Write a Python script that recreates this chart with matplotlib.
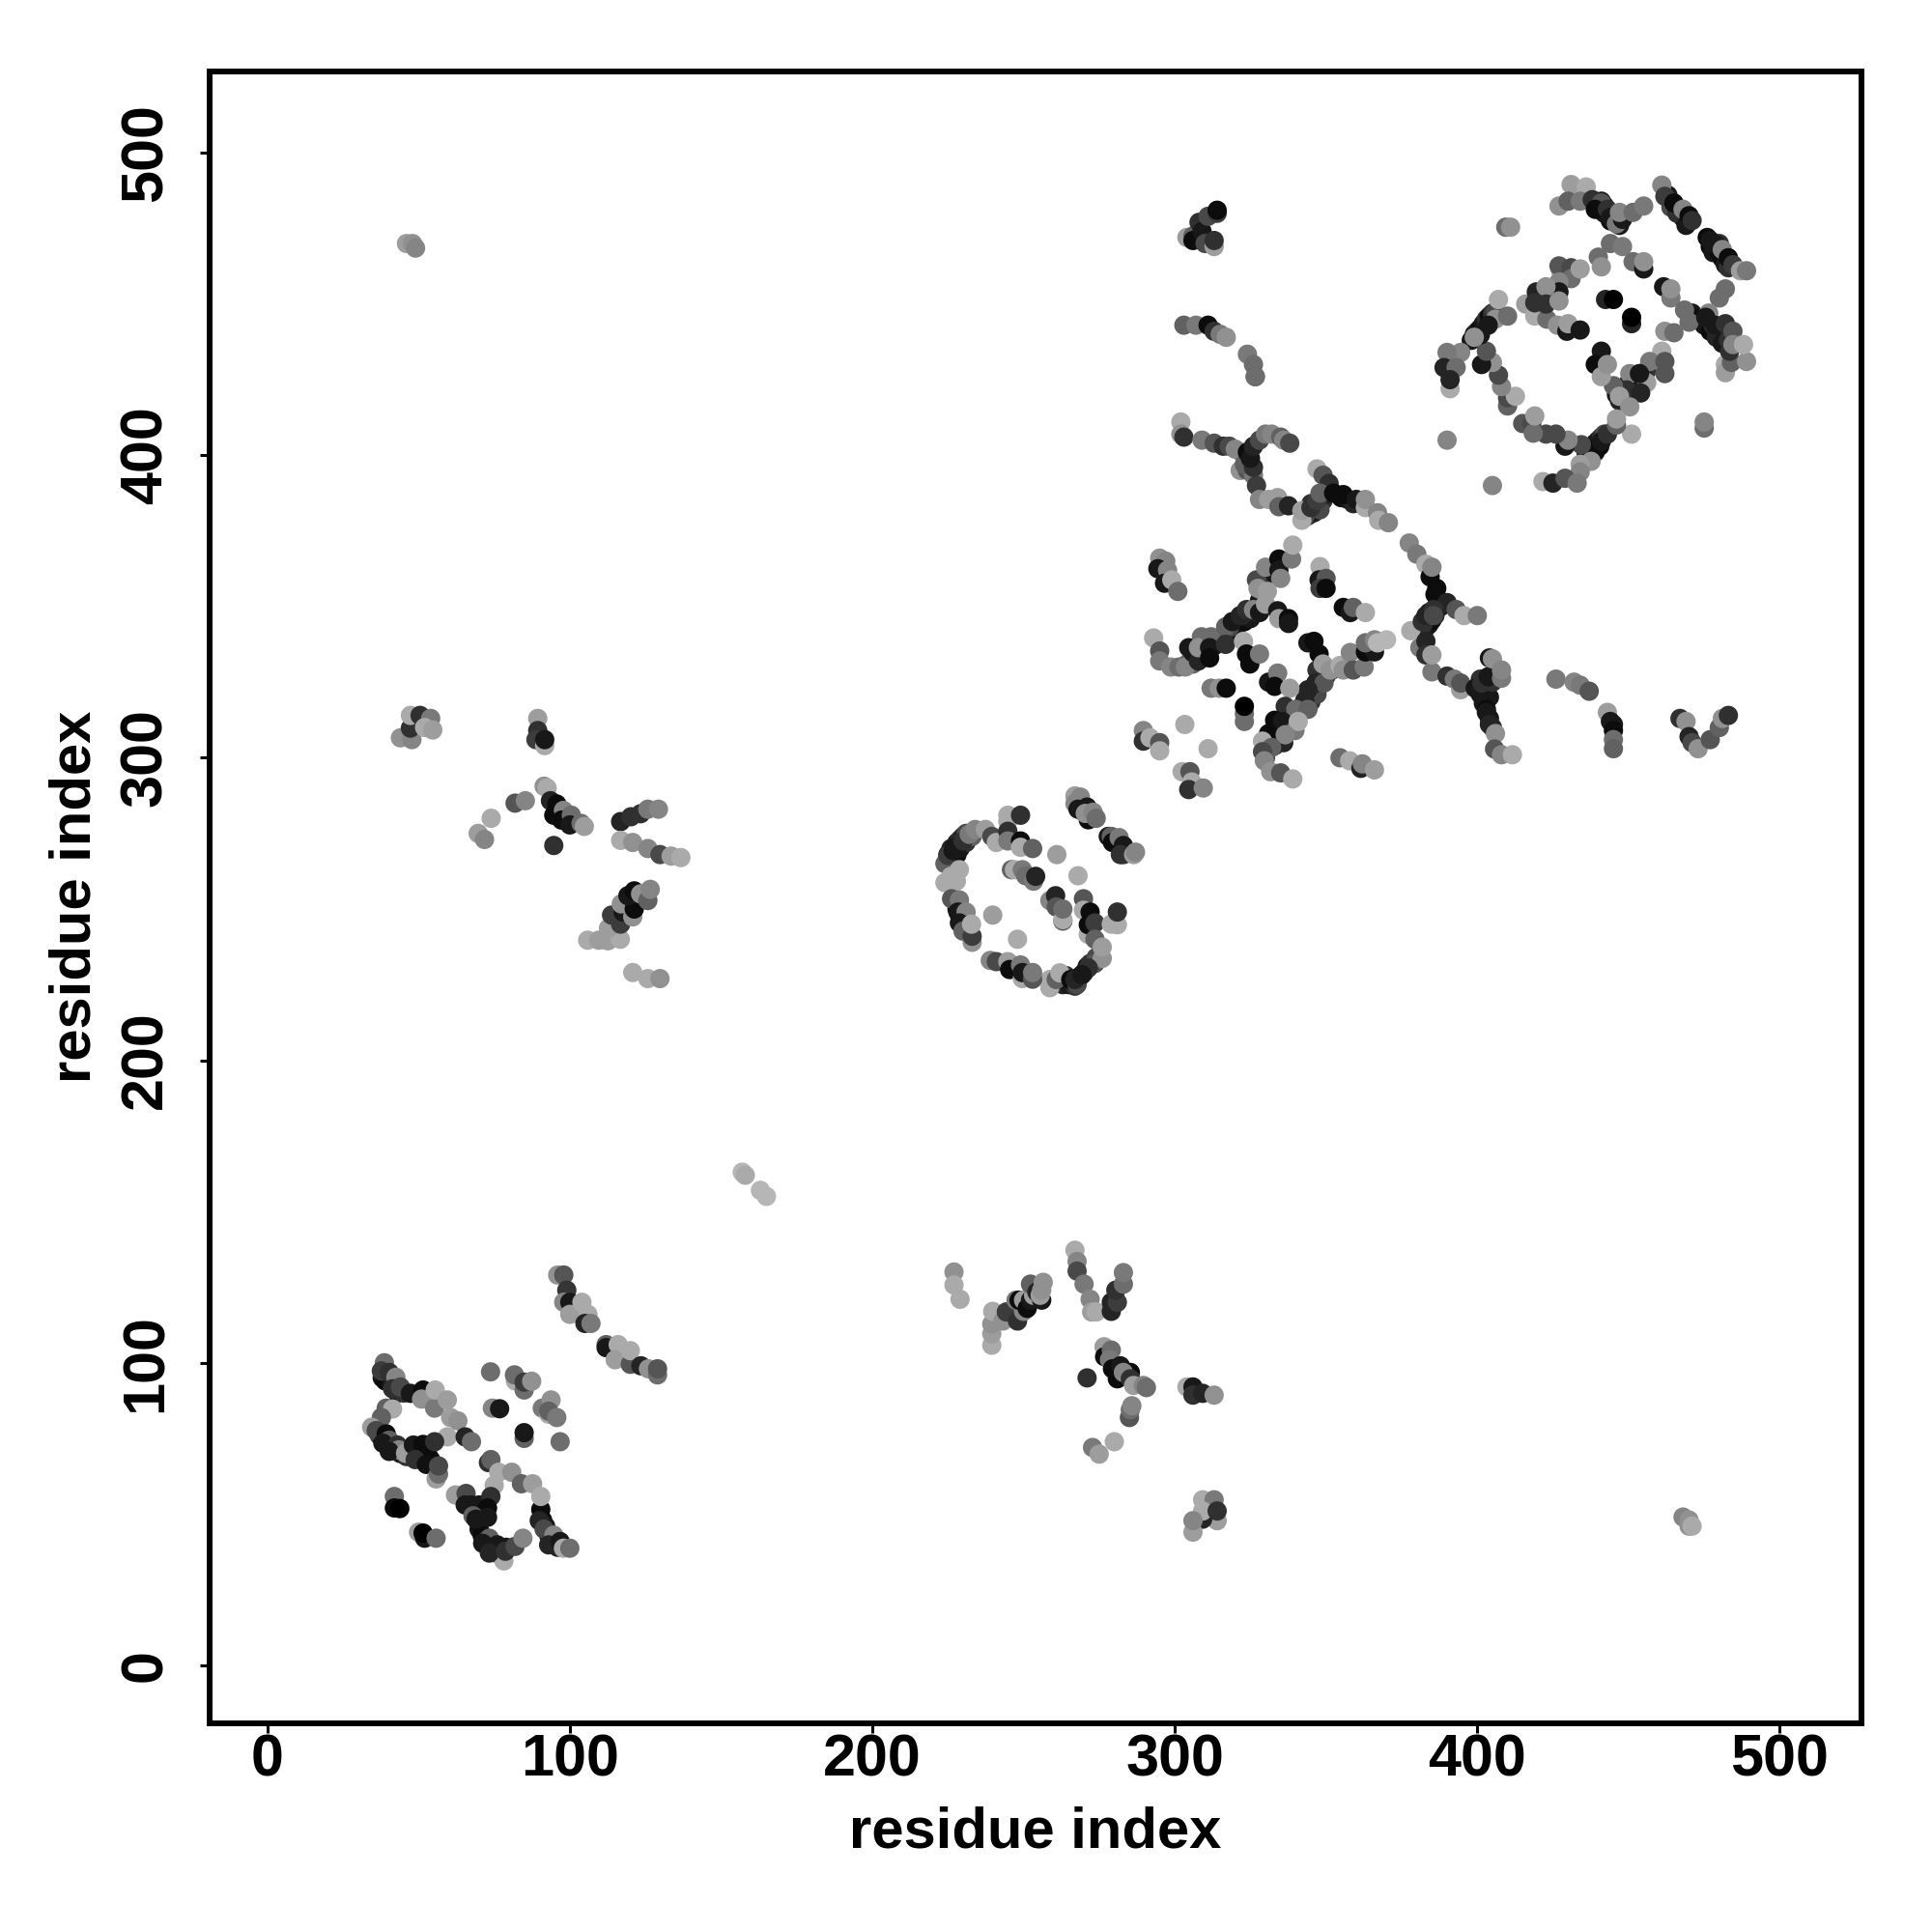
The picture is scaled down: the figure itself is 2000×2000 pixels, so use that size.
import matplotlib
matplotlib.use("Agg")
import matplotlib.pyplot as plt

tick_values = [0, 100, 200, 300, 400, 500]
axis_label = "residue index"

# each entry: residue i, residue j, grey shade
dense_tr = [(441,484,.1),(442,482.5,.05),(443,480.5,.15),(445,479,.05),(446,478,.2),(442,480,.1),(444,477.5,.05),(447,476,.1),(463,486,.1),(464,484,.15),(466,482,.05),(467,480,.1),(468,478.5,.05),(469,477.5,.2),(464,482,.3),(466,480,.2),(476,472,.05),(477,469,.05),(478,467,.1),(480,467,.05),(481,465,.05),(482,463,.1),(483,462,.2),(480,470,.2),
 (436,401,.1),(437,402,.05),(438,403,.15),(439,404,.05),(440,405,.1),(441,406,.2),(442,407,.3),(436,399.5,.15),(437.5,400,.1),(439,401,.2),(440.5,403,.05),
 (398,438,.1),(399,440,.1),(400,441,.15),(401,442,.05),(402,443.5,.1),(403,445,.2),(404,446,.05),(405,447,.2),(406,447.5,.3),
 (446,420,.1),(448,421,.05),(450,424,.1),(452,425,.15),(454,426,.1),(456,428,.2),(447,418,.15),(451,420,.1),
 (471,447,.1),(473,445,.05),(475,443,.1),(477,441,.05),(479,439,.15),(481,437,.1),(483,438,.2),(478,443,.2)]
dense_bridge = [(345,384,.2),(346,381,.15),(344,380,.1),(347,383,.05),(349,385,.2),(348,382,.3),(343,379.5,.3),(350,387,.15),(355,386,.05),(357,385.5,.1),(359,384,.15)]
dense_mid = [(311,336,.05),(313,337,.1),(315,339,.15),(317,340,.2),(319,342,.05),(321,344,.1),(323,345,.05),(325,346,.1),(327,348,.15),(318,343,.3),(322,347,.2),(328,352,.1),(329,355,.3),(331,359,.2),(333,361,.1),(309,333,.1),(306,331,.4),(304,331,.4),
 (341,315,.1),(342,317,.1),(343,319,.05),(345,321,.1),(346,322.5,.2),(347,324,.05),(348,326,.15),(350,327,.2),(352,329,.3),(340,314,.2),(343,316,.3),(345,318.5,.2),(347,321,.3),
 (334,310,.05),(333,307,.1),(331,304,.2),(330,300,.3),(333,304,.15),(335,309,.1),(336,313,.05),
 (383,343,.15),(384,344,.1),(385,345.5,.05),(386,347,.15),(382,344,.2),(384,348,.1),(386,349,.1),(388,350,.15),(387,352,.05),(386,354,.05),
 (400,323,.1),(401,321,.1),(402,323,.05),(403,324,.15),(404,320,.1),(402,318,.1),(403,316,.05),(404,313,.1),(405,310,.2),(401,326,.2),(405,325,.2)]
dense_ring = [(225,268,.1),(226,270,.15),(227,270,.05),(228,272,.1),(229,273,.2),(230,274,.15),(231,275,.3),(226,266,.1),(228,268,.05),(229,270,.1),(231,272,.2),(233,274,.4),(224,265,.4),
 (263,225,.15),(265,225,.1),(266,226,.05),(267,227,.1),(269,228,.05),(270,229,.15),(271,231,.1),(272,232,.2),(274,234,.3),(264,228,.2),(267,224.5,.2),
 (228,250,.05),(229,247,.05),(231,243,.3),
 (269,285,.1),(270,284,.05),(272,281,.05),(270,282,.1),(280,272,.05),(282,271,.1),(284,269,.05),(278,274,.1),(283,268,.2)]
dense_ll = [(38,95,.1),(39,94,.05),(41,93,.1),(42,92,.15),(43,90,.1),(45,90,.2),(37,76,.3),(38,75,.1),(39,74,.05),(41,73,.1),(42,71,.05),(44,70,.1),(46,69,.2),(49,70,.1),(53,70,.1),(54,68,.05),(50,72,.05),
 (70,45,.1),(71,43,.05),(72,41,.1),(74,40,.1),(75,38,.15),(76,37,.1),(77,39,.05),(79,39,.1),(91,48,.05),(92,46,.1),(93,43,.1),(95,41,.05),(96,39,.15),(70,47,.05),(69,51,.2),(71,50,.05),(70,53,.1)]

arc_low_a = [(96,129,.6),(98,129,.35),(99,124,.22),(98,120,.55),(100,120,.1),(100,116,.65),(104,120,.7),(106,116,.7),(105,113,.15),(107,113,.5)]
arc_low_b = [(112,106,.4),(112,105,.1),(116,106,.7),(115,101,.65),(120,99.5,.35),(120,104,.7),(123.5,99,.15),(126,98,.6),(129,96,.45),(129,98,.35)]
loop_a = [(38.7,100,.45),(37.7,97.3,.25),(40.3,96.8,.2),(42.5,95.2,.55),(41.4,91.4,.2),(44,92,.3),(47.3,89.9,.1),(51.5,91,.05),(51,88,.6),(55.3,85,.5),(55.5,91,.7),(59.5,87.7,.65),(60.6,81.9,.65),(59.5,75.5,.7),(63,80.8,.6),(65.4,75.5,.15),(67.5,73.9,.45),
 (39.3,85,.4),(41.4,84.7,.7),(37.7,81.9,.4),(34.5,78.7,.65),(36,77.6,.3),(39.3,76.5,.05),(40.3,74.4,.4),(38.2,73.4,.1),(43,72.8,.2),(43.5,71.2,.55),(40.3,70.7,.1),(45.7,70.1,.65),(48.3,72.8,.1),(51.5,73,.05),(55.3,73.9,.2),(48.9,68,.2),(52.6,66.4,.07),(55.8,61.6,.65),(56.6,63.2,.45),(56.6,65.9,.3)]
pairs_a = [(42,55.8,.45),(42,52,.05),(43.8,51.8,0),(50,44,.65),(52,42,.1),(51.5,43.7,0),(55.8,42,.45)]
centre_a = [(73.8,97,.45),(82,94,.7),(81.7,96,.45),(84.9,91,.45),(84.9,93.6,.25),(87.4,93.9,.6),(74.4,85,.55),(76.8,84.8,.1),(90.9,85,.5),(93,83,.7),(93.8,87.7,.6),(93,84,.4),(95.7,81.9,.5),(84.9,75,.4),(84.9,76.9,.1),(96.8,73.9,.45)]
loop_b = [(73.1,67,.2),(73.9,68,.4),(75,59.5,.7),(76.5,63.8,.7),(80.8,63.8,.6),(84,60,.4),(87.7,60,.65),(62.2,56.3,.65),(65.7,56.8,.3),(65.4,53,.1),(67.5,53,.1),(73.9,55.8,.2),(72.8,52,.05),(68,49.4,.4),(69,48.3,.1),(72.8,48.9,.1),(90.4,51.5,.05),(90.4,55.8,.7),(89.9,47.8,.15),(91.5,45,.3),(94.7,43,.55),(93,39.8,.15),(96.8,40.9,.1),(97.9,38.7,.7),(100,38.7,.45),
 (78.2,34.5,.7),(73.4,42,.4),(71.2,40.3,.1),(76,39.8,.1),(73.4,37.1,.15),(78.7,37.7,.2),(81.9,39.3,.3),(84.5,42,.55)]

top_right_a = [(431,489.5,.65),(436,488.7,.7),(427,482.4,.6),(430,484,.4),(434,484,.5),(438,484.5,.2),(441,483.4,.35),(439,481.3,.05),(443,481.3,.2),(444,478.6,.1),(446,476.5,.5),(448,478,.1),(447,480.3,.55),(451.5,480.3,.45),(455,482.4,.5),
 (461,489.3,.55),(462,485.6,.25),(465,483.4,.05),(468,481.3,.55),(469,476,.1),(470,479.2,.05),(471,477.6,.2),(477,471,.1),(479,469.6,.1),(481,468,.55),(483,465.3,.05),(484.5,463,.25),(487,461,.65),(489,461,.5),
 (444,470,.45),(448,469,.5),(451.5,464,.45),(455,461.6,.1),(455,464,.6),(440,465.5,.45),(441,462.3,.6)]
top_right_pairs = [(442.4,451.5,.15),(445,451.5,.0),(451,443.5,.15),(451,445.6,.0),(461.6,455.7,.1),(464,452,.5),(464,455,.6),(468.5,448,.45),(470,444,.45),(462,441,.6),(465,440.5,.45)]
top_right_b = [(482,455,.45),(480,452,.45),(476.5,447,.55),(475.5,445.6,.1),(478.6,443,.1),(482,443.5,.2),(484.5,441,.35),(482,430,.7),(482,427.3,.65),(484,430.7,.4),(489,431,.6),(483.4,434.4,.2),(484.5,436.6,.55),(488,436.6,.7),(475,409,.45),(475,411,.55)]
top_right_c = [(461,434.4,.7),(457,431,.5),(462,427,.35),(462,431,.35),(456,424,.65),(450.4,427,.55),(453.6,427,.1),(449.4,421.6,.2),(454,420.6,.15),(445,423,.4),(447,419.5,.65),(450.4,416,.6),(441,434.4,.1),(439,430,.05),(441,426,.65),(443,430,.6),
 (451,407,.7),(439,401.4,.05),(441,404.6,.1),(443,407,.2),(446,410,.4),(446,412,.65),(434.4,403.5,.3),(437.6,398,.6),(434,397,.65),(434,394.5,.55),(421.7,391.3,.7),(425,390.8,.15),(429,392.4,.35),(433,390.8,.5),(429,403,.1),(430,405,.55),(426,407,.3),(422.7,407,.3),(415,410.5,.35),(418,410.5,.3),(418.5,407.3,.45),(419,413,.65),
 (390,405,.55),(405,390,.55)]
top_right_d = [(410,416.3,.4),(410,419,.3),(412.6,419.5,.7),(408,422.7,.55),(407,426.5,.3),(405,430.7,.6),(401.4,430,.1),(403,434.4,.35),
 (407,451.5,.7),(406,445,.6),(403.6,443,.1),(401,439.8,.1),(399,439,.6),(394.5,434,.55),(390,434,.5),(389,429,.15),(393,429,.45),(391,422,.7),(391,425,.15),(410,446,.45),
 (416,450,.65),(419,446,.7),(423,445,.45),(426.5,443,.6),(429.6,441,.1),(430,443.5,.65),(434,441.4,.1),
 (427.5,461,.7),(427,462.6,.35),(431,462,.3),(431,458.4,.45),(434,461.6,.65),(427,457.3,.55),(427,454,.1),(419.5,454,.15),(422.7,455.7,.6),(422.7,450,.2),(427,451,.6),(419,450.4,.2),
 (409.4,475.4,.45),(411,475.4,.6)]

bridge_top = [(321.6,395,.6),(324,395,.35),(326,393.4,.5),(327,390,.25),(328,385.4,.55),(331,385.4,.65),(334,386,.65),(334.4,383,.4),(337.6,383.3,.15),(342,378.5,.7),(342,381.7,.65),(345,382.7,.2),(347,385,.25),(347,395.5,.7),(349,393.4,.35),(351,390.7,.2),(348,387.5,.4),(352.5,387.5,.05),(355.7,387,.05),(360,385.4,.1),(363,382.7,.7),(363,385.4,.6),(367,381,.55),(367.4,378.5,.7),(370.6,377.7,.55)]
right_chain = [(377.5,371,.55),(380,367.3,.5),(383,364,.7),(384.4,359.8,.05),(385,363,.55),(386.6,356,.05),(390,351.3,.15),(393,349,.35),(395.6,347,.7),(400,347,.5),(378,342,.7),(381.8,345,.2),(383,347,.15),(385.5,349,.2),(385.5,347,.3),(381,336.4,.5),(383,338.5,.15),(383,334,.2),(385,328.4,.5),(385,334,.65),(390,327,.2),(392.4,326,.5),(394.5,322.5,.65),(394.5,324.7,.35),(399.3,323,.1),(401.5,324.7,.2),(403.6,326.8,.1),(404,333,.1),(405,332.7,.6),(408,326.3,.5),(408,329,.55),(403,315,.1),(404,311,.15),(406,308,.6),(405.7,302.9,.35),(408,301,.55),(411.6,301,.7)]
mid_left = [(295,366,.6),(297,365,.55),(294.4,362.5,.1),(297.6,362,.55),(296.6,357.7,.1),(299,358.8,.7),(301,355,.45),(293,339.6,.7),(295,335.3,.35),(295,332,.5),(298.7,330,.55),(301.4,330,.45),(303.5,330,.55),(304.6,336.4,.1),(306,334.8,.1),(307.8,332,.15),(308.8,340,.45),(307.8,336.4,.6),(312,340,.45),(311.5,336.4,.1),(311.5,333,.05),(316.8,343.3,.4),(316.8,337.5,.2),(319,345,.1),(321.6,347,.15),(323.7,349,.2),(322.7,338.5,.7),(323.7,334.3,.05),(324.8,331,.05),(328,334.3,.5),(326,349,.55),(328,348,.1),
 (327,358.8,.3),(330,363,.55),(334.4,365.7,.05),(334.4,362,.1),(335,359.3,.55),(327.5,356,.6),(330.6,355,.65),(330,350.8,.65),(334,348.6,.1),(334.4,346,.65),(337.6,346,.05),(337.6,344.4,.1),(338.6,365.7,.5),(339,370.3,.7)]
mid_pairs = [(348,363.2,.7),(347.7,358.8,.1),(350,359.3,.35),(348,356,.25),(350,356,.05),(355.7,349.7,.05),(358,348,.1),(359,349.7,.4),(363,348,.7),
 (312,323,.5),(314.7,323,.6),(317,323,.05),(323,312,.45),(323,314.6,.45),(323,317,.0),(303.3,311,.7),(311,303,.7)]
mid_right = [(344,338,.1),(346,338.5,.05),(347.7,334.3,.05),(347,329,.2),(349,331,.65),(346.6,324.7,.15),(349.3,324.7,.35),(351.4,329,.6),(344,322.5,.15),(343,318.8,.15),(331,325,.1),(334,328,.5),(333,323.6,.05),(338,323,.65),(336.5,317,.2),(340,316,.45),(344,316,.4),(333,312.4,.05),(335.5,312,.1),(339.7,309,.5),(340.8,312,.7),(331,308,.05),(336,305,.15),(336.5,307.6,.55),(329,305.5,.7),(332,303.4,.4),(329,302,.3),(329.6,299,.55),(331.7,295.4,.6),(335,295,.35),(339,293,.7),
 (354.6,330.5,.7),(358,334.8,.55),(355.7,329,.6),(359,329,.35),(362.6,330,.5),(363,335,.05),(366,335,.1),(363,338,.45),(366,339,.55),(367,338,.75),(370,339,.75)]
mid_small = [(354.6,300,.45),(357.8,299,.7),(361.5,296.5,.15),(362,298,.55),(366,296,.65),
 (289.6,309,.55),(289.6,305.5,.2),(291.8,306.6,.7),(295,305,.35),(295,302.3,.7),
 (302.4,295.4,.7),(305,295.4,.35),(305.6,292,.7),(304.6,289.5,.2),(309.4,290,.55)]

ring = [(244.8,281,.7),(244.8,279,.7),(249,281,.2),(225,267.7,.25),(226.7,269.3,.1),(228.3,271,.1),(230,272.5,.2),(232,274.7,.5),(234,276.3,.55),(237.4,276.3,.65),(239.5,274,.3),(241,272,.7),(244.8,275.7,.2),(244.8,272.5,.5),(249,272.5,.05),(249,270.4,.7),(253,270,.4),(224,258.7,.7),(226,260.8,.7),(227.8,259.2,.7),(228.8,263,.7),
 (246,263,.4),(247,263,.7),(249.6,263,.5),(250.7,261,.45),(253.3,259.2,.5),(254,260.8,.15),(261,268,.65),(268,261,.7),
 (226.2,253.4,.35),(228.8,253,.5),(228.3,249,.1),(231,249,.55),(228.8,245.4,.1),(230,242.7,.4),(233,239,.6),(233,241,.25),(232.8,245,.7),(239.8,248,.65),(248,240,.7),
 (258.7,252.8,.55),(260.6,254.4,.15),(260.8,250.7,.35),(263,246,.4),(263,246.5,.7),(263,250,.45),
 (269.8,253.4,.35),(269.8,249.6,.7),(272,249,.05),(271.4,241.6,.7),(271.4,244.8,.05),(273.6,245.4,.25),(279,245,.7),(281,244.8,.7),(281,249,.2),
 (273.6,240,.4),(273.6,232,.35),(276,233.7,.6),(276,237.4,.65),(271.4,230.5,.2),(258.7,224,.7),(258.7,226.7,.7),(260.8,226.7,.4),(262,228.9,.7),(265.6,226.7,.05),(267.7,225,.3),(267,226.7,.15),(269.3,228.3,.1),
 (239,233,.55),(241,232.6,.3),(244.8,232.6,.65),(245.4,230,.05),(249,231.5,.5),(249.6,227,.7),(249.6,229,.1),(253,226.8,.35),(253,229,.5)]
ring_right = [(267,287.4,.65),(268.8,287,.55),(267,284.8,.55),(268,283,.1),(271.4,279.5,.05),(271,283.7,.1),(270.4,281.6,.6),(273,282,.55),(274,280,.45),
 (279,274,.4),(279.4,272,.05),(281.6,273.6,.5),(283,271,.1),(282,268,.2),(286.4,268,.65),(287,268.8,.55)]

far_corner = [(46,470,.65),(48,470,.6),(49,468.5,.55)]
upper_col_a = [(304,472,.65),(306,472.5,.4),(306,471,.05),(308,477,.2),(309,474,.1),(310,470,.3),(311,479,.3),(313,469,.65),(313,471,.2),(314,480,.25),(314,481,.05)]
upper_col_b = [(303,443,.4),(307,443,.5),(311,443,.05),(313,441,.2),(315,440,.5),(317,439,.6),(324,433.4,.5),(326,430,.45),(326.6,426,.3),(326.6,426,.45)]
upper_col_c = [(302,411,.7),(302,407,.6),(303,406,.2),(309,405,.5),(313,404,.35),(316,403,.2),(318,403,.3),(320,402,.55),(322,401,.55),(323,397,.4),(326,396,.2),(324,401,.05),(325,399,.1),(326,403,.15),(328,405,.3),(330,407,.5),(332,407,.55),(335,406,.4),(336,405,.55),(338,404,.3)]

left_a = [(44,306.6,.6),(47.8,306,.55),(47.3,309.8,.2),(47.3,314,.7),(50.5,314,.2),(54,313,.5),(52,310,.7),(54.7,309.2,.65)]
left_b = [(89.4,313,.65),(89.4,309,.2),(88.8,306,.25),(91.7,304,.7),(91.7,306,.1),
 (91.5,290.6,.6),(92.5,290,.7),(93.6,285.8,.15),(95.7,284.7,.05),(94.7,281,.05),(97.9,282.6,.55),(97.3,279.4,.05),(100.5,281,.45),(100,277.8,.1),(103.7,278.3,.45),(104.8,277.3,.65),(81.9,285,.35),(85.3,285.8,.55),(74,280,.7),(69.7,275,.65),(71.8,273,.55),(94.7,271,.2)]
left_c = [(116.8,278.9,.15),(120.2,280.5,.2),(123.4,281.5,.2),(125.8,283,.5),(129.3,283,.55),(116.8,272.7,.7),(120.8,272,.6),(125.8,270,.55),(129.8,268,.3),(133.5,267.5,.65),(136.7,267,.7)]
left_d = [(105.9,239.7,.7),(109.6,239.7,.65),(112.6,239.5,.65),(116.7,240,.7),(112.8,243.7,.65),(113.8,248,.25),(116.8,245,.25),(117.6,249,.1),(117,251.7,.6),(120.8,247.4,.6),(121.3,250,.05),(119.2,254.4,.1),(121.3,256,.05),(123.4,255,.6),(125.8,252.8,.4),(126.6,256.5,.55),(120.8,229,.7),(125.8,227,.7),(129.8,227,.6)]
mid_isolated = [(157,163,.75),(158,162,.7),(163,157,.75),(165,155,.75)]
low_a = [(227,130,.6),(227,125.7,.7),(229,121,.7),(239.5,105.8,.7),(239.5,109.6,.65),(239.5,112.8,.6),(239.8,117,.7),(243.2,113.8,.6),(244.3,116.8,.25),(248,113.8,.2),(250,117,.55),(247.5,120.7,.5),(248.5,120.7,.05),(250,120.7,.65),(251.2,118,.05),(252.3,120.7,.1),(253.3,122.3,.65),(252.3,126,.4),(254.4,123.4,.15),(256,120.7,.1),(255.5,122.3,.65),(256,124,.6),(256.5,126.6,.6)]
low_b = [(267,137.2,.7),(267.7,133.5,.55),(267.7,130.3,.3),(270,126,.5),(272,121,.55),(272.5,116.8,.65),(274,116.8,.7),(279,117,.15),(279,120,.15),(281,120,.25),(280.5,124,.2),(283,126,.45),(283,129.8,.5)]
low_c = [(276.6,105.3,.65),(276.8,102,.05),(279,104.2,.45),(278.4,101,.5),(279.4,98,.05),(282,99,.1),(281,94.7,.05),(285.3,96.8,.05),(283,96.8,.55),(285.3,94.7,.2),(286.4,92.5,.65),(289.6,92.5,.55),(290.6,91.8,.45),(271,95,.2),(285,81.9,.35),(285.3,84.5,.45),(285.8,85.8,.55),(272.8,72,.5),(275,69.8,.65),(280,73.9,.7)]
low_d = [(304,92,.7),(306,92,.1),(306,89.3,.2),(309.2,89.9,.15),(313,89.3,.6),(309.2,54.7,.7),(313,54.7,.5),(314,47.8,.65),(309.2,48.3,.15),(309.2,51,.7),(314,51,.2),(306,44,.65),(306,47.8,.55),(468,49,.55),(470,48,.6),(470,46,.6),(471,46,.7)]
right_far = [(426,326,.5),(432,325,.55),(434,324,.5),(437,322,.35),(443,315,.65),(444,312,.1),(445,311,.1),(445,309,.05),(445,306,.45),(445,303,.4),(467,313,.2),(469,312,.6),(470,307,.15),(471,305,.3),(473,303,.6),(477,306,.35),(480,310,.4),(481,313,.6),(483,314,.2)]

groups = [dense_tr, dense_bridge, dense_mid, dense_ring, dense_ll,
          arc_low_a, arc_low_b, loop_a, pairs_a, centre_a, loop_b, top_right_a, top_right_pairs,
          top_right_b, top_right_c, top_right_d, bridge_top, right_chain, mid_left, mid_pairs,
          mid_right, mid_small, ring, ring_right, far_corner, upper_col_a, upper_col_b,
          upper_col_c, left_a, left_b, left_c, left_d, mid_isolated, low_a, low_b, low_c,
          low_d, right_far]

plt.rcParams['font.family'] = ['Liberation Sans', 'DejaVu Sans']
fig = plt.figure(figsize=(20, 20), dpi=100, facecolor='white')
ax = fig.add_axes([0.1083, 0.108, 0.8552, 0.8552])

for g in groups:
    ax.scatter([p[0] for p in g], [p[1] for p in g], c=[str(round(p[2] * 0.95, 3)) for p in g],
               s=207, linewidths=0, zorder=3)

ax.set_xlim(-19.2, 527)
ax.set_ylim(-19.2, 527)
ax.set_xticks(tick_values)
ax.set_yticks(tick_values)
ax.tick_params(axis='x', length=7, width=2.2, labelsize=44, pad=0.5)
ax.tick_params(axis='y', length=7, width=2.2, labelsize=44, pad=19)
for t in ax.get_xticklabels():
    t.set_fontweight('bold')
for t in ax.get_yticklabels():
    t.set_fontweight('bold')
    t.set_rotation(90)
    t.set_va('center')
for s in ax.spines.values():
    s.set_linewidth(4.3)
ax.set_xlabel(axis_label, fontsize=43, fontweight='bold', labelpad=13)
ax.set_ylabel(axis_label, fontsize=43, fontweight='bold', labelpad=13)
fig.savefig('out.png', dpi=100)
